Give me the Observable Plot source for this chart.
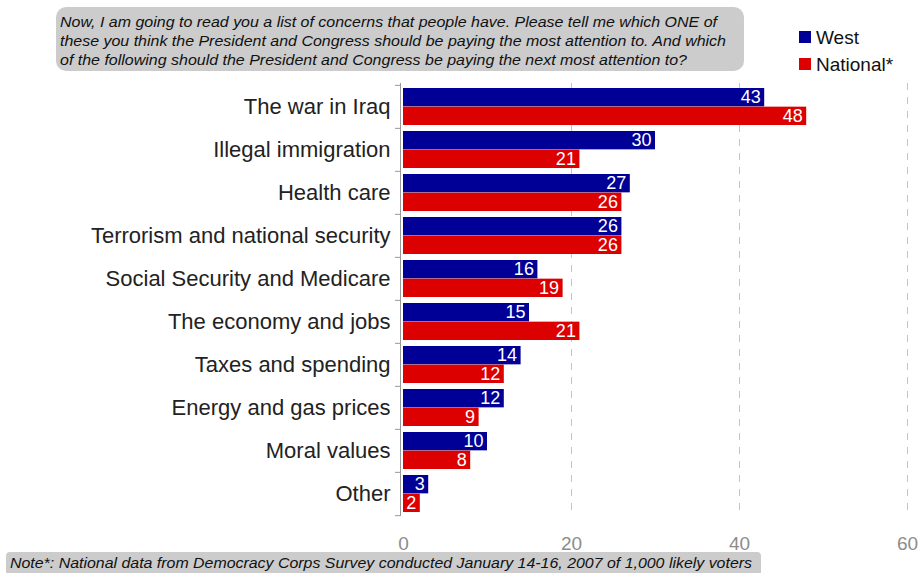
<!DOCTYPE html>
<html>
<head>
<meta charset="utf-8">
<script src="https://cdn.jsdelivr.net/npm/d3@7"></script>
<script src="https://cdn.jsdelivr.net/npm/@observablehq/plot@0.6"></script>
<style>
  html, body { margin: 0; padding: 0; background: #fff; }
  #chart { width: 921px; height: 573px; position: relative; }
</style>
</head>
<body>
<div id="chart"></div>
<script>
const categories = [
  "The war in Iraq",
  "Illegal immigration",
  "Health care",
  "Terrorism and national security",
  "Social Security and Medicare",
  "The economy and jobs",
  "Taxes and spending",
  "Energy and gas prices",
  "Moral values",
  "Other"
];
const west     = [43, 30, 27, 26, 16, 15, 14, 12, 10, 3];
const national = [48, 21, 26, 26, 19, 21, 12,  9,  8, 2];
const xTicks = [0, 20, 40, 60];
const seriesNames = ["West", "National*"];
const colors = ["#000096", "#dd0000"];
const titleLines = [
  "Now, I am going to read you a list of concerns that people have. Please tell me which ONE of",
  "these you think the President and Congress should be paying the most attention to. And which",
  "of the following should the President and Congress be paying the next most attention to?"
];
const note = "Note*: National data from Democracy Corps Survey conducted January 14-16, 2007 of 1,000 likely voters";

const rowsWest = categories.map((c, i) => ({category: c, value: west[i]}));
const rowsNat = categories.map((c, i) => ({category: c, value: national[i]}));

const W = 921, H = 573, mTop = 83, mBottom = 57;
const bw = (H - mTop - mBottom) / categories.length;
const half = bw / 2;
const font = "'Liberation Sans', Arial, sans-serif";

const plot = Plot.plot({
  width: W,
  height: H,
  marginLeft: 403,
  marginRight: 14,
  marginTop: mTop,
  marginBottom: mBottom,
  style: {fontFamily: font, background: "white", overflow: "visible"},
  x: {domain: [0, 60]},
  y: {domain: categories, padding: 0},
  marks: [
    Plot.gridX({ticks: xTicks.filter(t => t > 0), stroke: "#c4c4c4", strokeOpacity: 1, strokeDasharray: "7,7"}),
    Plot.barX(rowsWest, {x: "value", y: "category", fill: colors[0], insetTop: 3, insetBottom: half}),
    Plot.barX(rowsNat, {x: "value", y: "category", fill: colors[1], insetTop: half, insetBottom: 3}),
    Plot.text(rowsWest, {x: "value", y: "category", text: d => String(d.value), fill: "white", textAnchor: "end", dx: -4, dy: -half / 2 + 1.5, fontSize: 18}),
    Plot.text(rowsNat, {x: "value", y: "category", text: d => String(d.value), fill: "white", textAnchor: "end", dx: -4, dy: half / 2 - 1.5, fontSize: 18}),
    Plot.ruleX([0], {stroke: "#999", dx: -3}),
    Plot.axisY({tickSize: 5, dx: -3, dy: -half, stroke: "#999", tickFormat: () => "", label: null}),
    Plot.axisY({ticks: [categories[categories.length - 1]], tickSize: 5, dx: -3, dy: half, stroke: "#999", tickFormat: () => "", label: null}),
    Plot.axisY({tickSize: 0, tickPadding: 13, fontSize: 22, fill: "#222", label: null}),
    Plot.axisX({ticks: xTicks, tickSize: 0, tickPadding: 20, fontSize: 19, fill: "#8c8c8c", label: null})
  ]
});

const svg = d3.select(plot);

// Question box
const tg = svg.append("g").attr("text-anchor", "start");
tg.append("rect").attr("x", 56).attr("y", 7).attr("width", 688).attr("height", 64)
  .attr("rx", 10).attr("fill", "#cccccc");
const titleLens = [657, 666, 627];
const titleBase = [26.5, 45.5, 64.5];
titleLines.forEach((t, i) => {
  tg.append("text").attr("x", 60).attr("y", titleBase[i]).attr("text-anchor", "start")
    .attr("font-family", font).attr("font-style", "italic").attr("font-size", 14.5)
    .attr("fill", "#111").attr("textLength", titleLens[i]).attr("lengthAdjust", "spacingAndGlyphs")
    .text(t);
});

// Legend
const lg = svg.append("g").attr("text-anchor", "start");
const legY = [31, 58];
const legBase = [44, 70.5];
seriesNames.forEach((n, i) => {
  lg.append("rect").attr("x", 799).attr("y", legY[i]).attr("width", 12).attr("height", 12).attr("fill", colors[i]);
  lg.append("text").attr("x", 816).attr("y", legBase[i]).attr("text-anchor", "start").attr("font-family", font)
    .attr("font-size", 19).attr("fill", "#111").text(n);
});

// Footnote
const fg = svg.append("g").attr("text-anchor", "start");
fg.append("rect").attr("x", 6).attr("y", 552).attr("width", 755).attr("height", 26)
  .attr("rx", 4).attr("fill", "#cccccc");
fg.append("text").attr("x", 10).attr("y", 567.5).attr("text-anchor", "start").attr("font-family", font)
  .attr("font-style", "italic").attr("font-size", 14).attr("fill", "#111")
  .attr("textLength", 742).attr("lengthAdjust", "spacingAndGlyphs").text(note);

document.getElementById("chart").appendChild(plot);
</script>
</body>
</html>
